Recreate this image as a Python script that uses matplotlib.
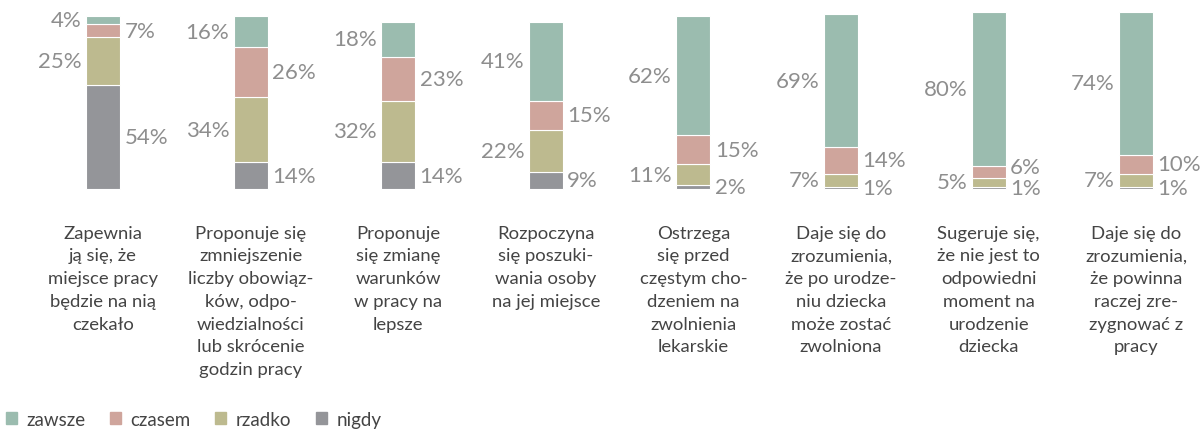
import numpy as np
import matplotlib.pyplot as plt
from matplotlib.patches import Patch

# Data
categories = [
    "Zapewnia\nją się, że\nmiejsce pracy\nbędzie na nią\nczekało",
    "Proponuje się\nzmniejszenie\nliczby obowiąz-\nków, odpo-\nwiedzialności\nlub skrócenie\ngodzin pracy",
    "Proponuje\nsię zmianę\nwarunków\nw pracy na\nlepsze",
    "Rozpoczyna\nsię poszuki-\nwania osoby\nna jej miejsce",
    "Ostrzega\nsię przed\nczęstym cho-\ndzeniem na\nzwolnienia\nlekarskie",
    "Daje się do\nzrozumienia,\nże po urodze-\nniu dziecka\nmoże zostać\nzwolniona",
    "Sugeruje się,\nże nie jest to\nodpowiedni\nmoment na\nurodzenie\ndziecka",
    "Daje się do\nzrozumienia,\nże powinna\nraczej zre-\nzygnować z\npracy",
]
nigdy = [54, 14, 14, 9, 2, 1, 1, 1]
rzadko = [25, 34, 32, 22, 11, 7, 5, 7]
czasem = [7, 26, 23, 15, 15, 14, 6, 10]
zawsze = [4, 16, 18, 41, 62, 69, 80, 74]

series = [("nigdy", nigdy, "#949599", "right"),
          ("rzadko", rzadko, "#bdba8f", "left"),
          ("czasem", czasem, "#cfa59c", "right"),
          ("zawsze", zawsze, "#9bbcaf", "left")]

fig = plt.figure(figsize=(12.02, 4.31), dpi=100)
ax = fig.add_axes([0, 0, 1, 1])
ax.set_xlim(-0.698, 7.446)
ax.set_ylim(-125.5, 99)
ax.axis("off")

x = np.arange(len(categories))
w = 0.23
bottom = np.zeros(len(categories))
label_pos = {"left": [[] for _ in x], "right": [[] for _ in x]}
for name, vals, color, side in series:
    vals = np.array(vals, dtype=float)
    ax.bar(x, vals, w, bottom=bottom, color=color, edgecolor="white", linewidth=0.8)
    for i in x:
        label_pos[side][i].append((bottom[i] + vals[i] / 2, vals[i]))
    bottom += vals

# percent labels, alternating sides; push apart when too close
pct_font = dict(family="Lato", fontsize=16, color="#8e8e8e")
gap = 0.03
for side in ("left", "right"):
    for i in x:
        prev = None
        for y, v in label_pos[side][i]:
            if prev is not None and y - prev < 11:
                y = prev + 11
            prev = y
            if side == "left":
                ax.text(i - w / 2 - gap, y, f"{int(v)}%", ha="right", va="center", **pct_font)
            else:
                ax.text(i + w / 2 + gap, y, f"{int(v)}%", ha="left", va="center", **pct_font)

for i, cat in enumerate(categories):
    ax.text(i, -18.5, cat, ha="center", va="top", family="Lato", fontsize=13.3,
            color="#444444", linespacing=1.52)

handles = [Patch(color=c, label=n) for n, _, c, _ in series[::-1]]
fig.legend(handles=handles, loc="lower left", bbox_to_anchor=(0.0, -0.008), ncol=4,
           frameon=False, borderaxespad=0.0, borderpad=0.3,
           handlelength=0.6, handleheight=0.6, handletextpad=0.5,
           columnspacing=1.3, prop=dict(family="Lato", size=13.5), labelcolor="#444444")

fig.savefig("out.png", dpi=100)
